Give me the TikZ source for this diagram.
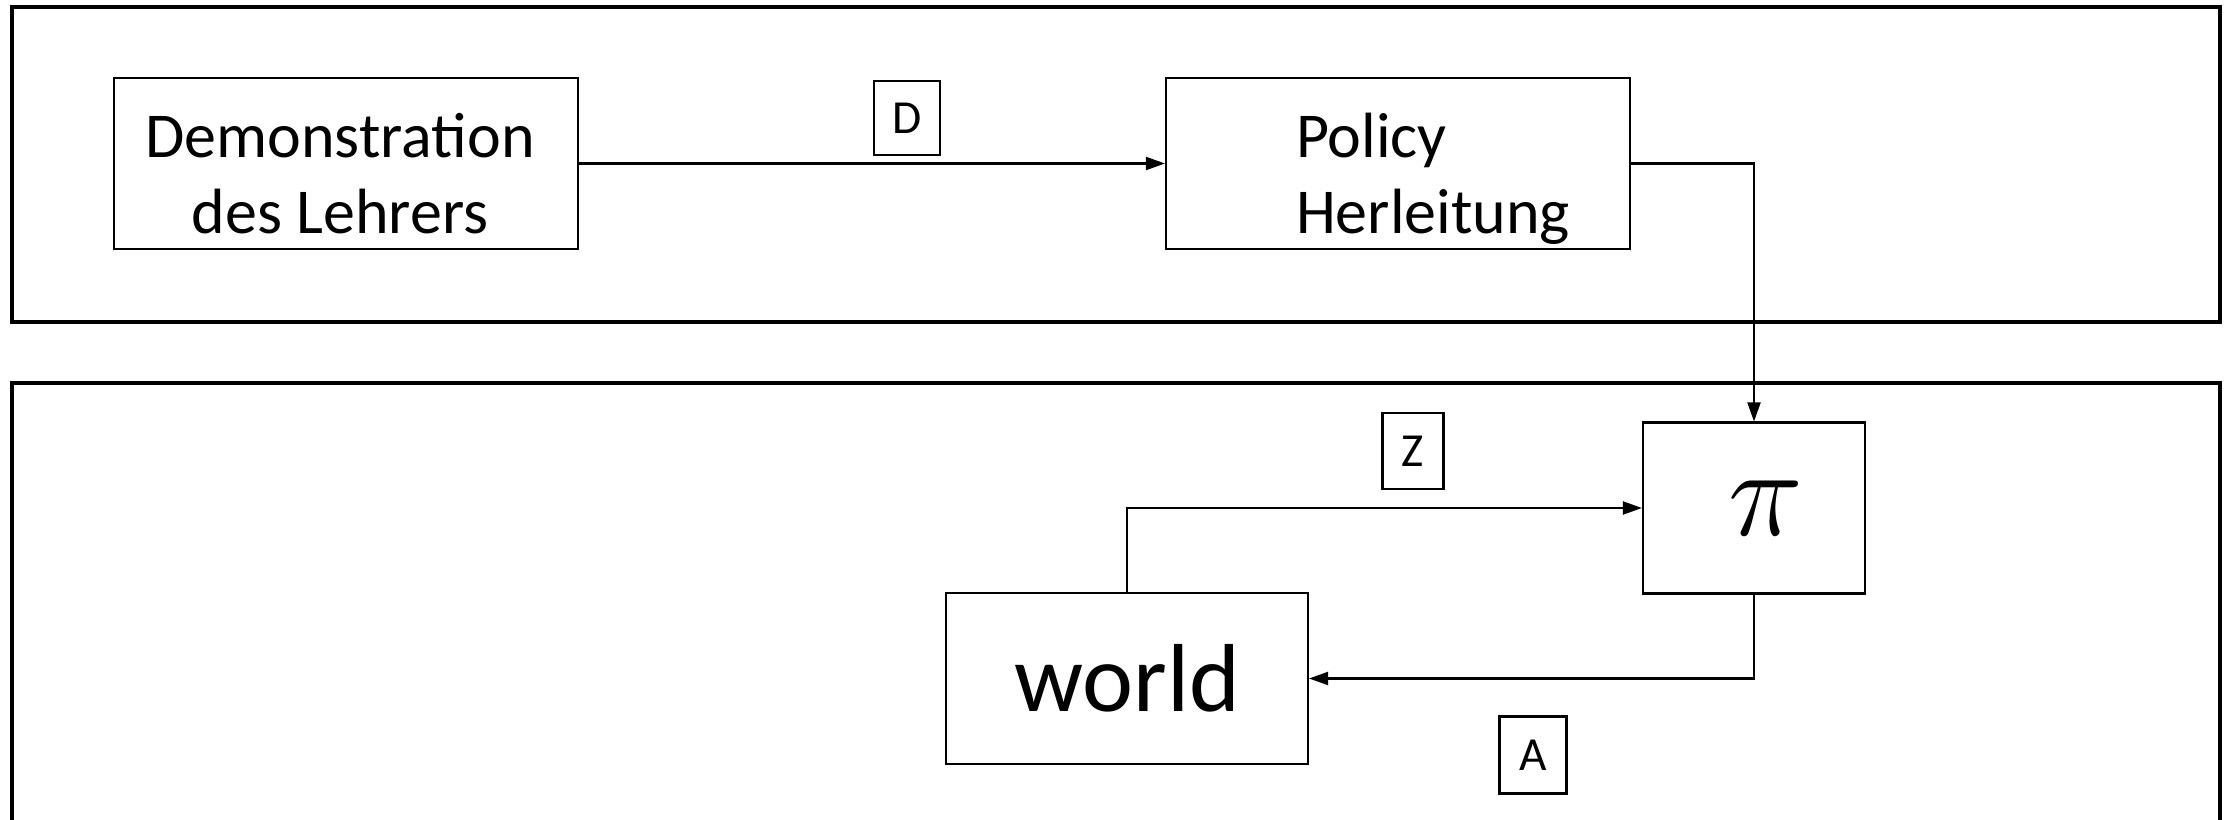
\documentclass[tikz,border=0pt]{standalone}
\usepackage{fix-cm}
\usepackage{fontspec}
\setmainfont{Carlito}
\usetikzlibrary{arrows.meta,positioning}

\tikzset{
  blockbox/.style={rectangle, draw, line width=0.6pt, minimum width=4.64cm, minimum height=1.71cm, inner sep=0pt},
  blocktext/.style={align=left, font=\fontsize{18.2}{21.7}\selectfont},
  tagbox/.style={rectangle, draw, line width=0.6pt, inner sep=0pt, font=\fontsize{13.5}{15}\selectfont},
  link/.style={line width=0.6pt, -{Triangle[length=0.19cm,width=0.13cm]}},
  frame/.style={line width=0.9pt}
}

\begin{document}
\begin{tikzpicture}
    \useasboundingbox (0,0) rectangle (22.31,-8.20);
    % the two frames
    \draw[frame] (0.12,-0.07) rectangle (22.20,-3.22);
    \draw[frame] (0.12,-8.40) -- (0.12,-3.83) -- (22.20,-3.83) -- (22.20,-8.40);

    \node (demo) [blockbox, label={[blocktext, align=center, xshift=-0.06cm, yshift=-0.10cm]center:Demonstration\\des Lehrers}] at (3.46,-1.635) {};
    \node (policy) [blockbox, label={[blocktext, xshift=0.35cm, yshift=-0.15cm]center:Policy\\Herleitung}] at (13.98,-1.635) {};
    \node (pi) [rectangle, draw, line width=0.6pt, minimum width=2.22cm, minimum height=1.71cm, font=\fontsize{36}{38}\selectfont] at (17.54,-5.08) {\hspace*{0.24cm}$\pi$};
    \node (world) [rectangle, draw, line width=0.6pt, minimum width=3.62cm, minimum height=1.71cm, font=\fontsize{27.5}{30}\selectfont] at (11.27,-6.785) {world};

    \node (labD) [tagbox, minimum width=0.66cm, minimum height=0.74cm] at (9.07,-1.18) {D};
    \node (labZ) [tagbox, minimum width=0.61cm, minimum height=0.76cm] at (14.13,-4.51) {Z};
    \node (labA) [tagbox, minimum width=0.67cm, minimum height=0.77cm] at (15.33,-7.55) {A};

    \draw[link] (demo) -- (policy);
    \draw[link] (policy.east) -| (pi.north);
    \draw[link] (world.north) |- (pi.west);
    \draw[link] (pi.south) |- (world.east);
\end{tikzpicture}
\end{document}
